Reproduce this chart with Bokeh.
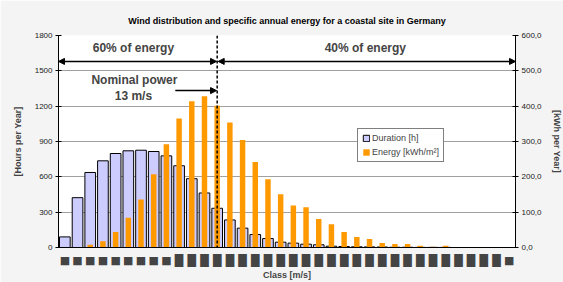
from bokeh.plotting import figure
from bokeh.models import (Range1d, LinearAxis, FixedTicker, CustomJSTickFormatter,
                          Label, Arrow, NormalHead, Span, Legend, LegendItem, ColumnDataSource)
from bokeh.embed import file_html
from bokeh.resources import INLINE

classes = [str(i) for i in range(1, 37)]
duration = [90, 423, 637, 736, 798, 821, 826, 815, 778, 694, 584, 463, 333, 234, 164, 110,
            76, 45, 37, 28, 23, 11, 8, 6, 5, 4, 2, 2, 1, 1, 1, 0, 0, 0, 0, 0]
energy = [0, 0, 7.5, 18, 44, 84, 136, 207, 292, 365, 414, 428, 401, 354, 304, 242, 193, 151,
          119, 114, 81, 66, 44, 30, 24, 13, 10, 10, 5, 2, 5, 0, 0, 0, 0, 0]
# the class labels show in the reference as black boxes (short for one digit, tall for two)
class_marks = ["■" if (len(c) == 1 or c == "36") else "█" for c in classes]
hours_ticks = [0, 300, 600, 900, 1200, 1500, 1800]
energy_ticks = [0, 100, 200, 300, 400, 500, 600]
nominal_class = "13"

FONT = "Liberation Sans"

# slot centre of each class on a numeric axis (class k sits in slot k-1 .. k)
pos = [classes.index(c) + 0.5 for c in classes]
src = ColumnDataSource(dict(x=pos, cls=classes, duration=duration, energy=energy))

p = figure(frame_width=457, frame_height=212, x_range=Range1d(0, len(classes)),
           y_range=Range1d(0, 1800), output_backend="svg", toolbar_location=None,
           title="Wind distribution and specific annual energy for a coastal site in Germany",
           min_border_left=58, min_border_right=40, min_border_top=35, min_border_bottom=20)
p.background_fill_color = "white"
p.border_fill_color = "#f4f4f4"
p.outline_line_color = None

p.title.text_font = FONT
p.title.text_font_size = "9px"
p.title.text_font_style = "bold"
p.title.align = "center"
p.title.text_color = "black"
p.title.standoff = 20

p.extra_y_ranges = {"energy": Range1d(0, 600)}

dur = p.vbar(x="x", top="duration", width=0.84, source=src, fill_color="#ccccff",
             line_color="black", line_width=1)
en = p.vbar(x="x", top="energy", width=0.43, source=src, fill_color="#ff9900",
            line_color=None, y_range_name="energy")

# axes
yax = p.yaxis[0]
yax.ticker = FixedTicker(ticks=hours_ticks)
yax.axis_label = "[Hours per Year]"
yax2 = LinearAxis(y_range_name="energy", ticker=FixedTicker(ticks=energy_ticks),
                  axis_label="[kWh per Year]",
                  formatter=CustomJSTickFormatter(code="return tick.toFixed(1).replace('.', ',');"))
p.add_layout(yax2, "right")
for ax in (yax, yax2):
    ax.axis_label_text_font = FONT
    ax.axis_label_text_font_size = "9px"
    ax.axis_label_text_font_style = "bold"
    ax.major_label_text_font = FONT
    ax.major_label_text_font_size = "8px"
    ax.major_label_text_color = "#222222"
    ax.major_tick_in = 3
    ax.major_tick_out = 3
    ax.minor_tick_line_color = None
    ax.axis_line_color = "black"
    ax.major_label_standoff = 3
yax.axis_label_standoff = 9
yax2.axis_label_standoff = 7

xax = p.xaxis[0]
xax.ticker = FixedTicker(ticks=pos)
xax.major_label_overrides = {x: m for x, m in zip(pos, class_marks)}
xax.axis_label = "Class [m/s]"
xax.axis_label_text_font = FONT
xax.axis_label_text_font_size = "9px"
xax.axis_label_text_font_style = "bold"
xax.axis_label_standoff = 0
xax.major_tick_line_color = None
xax.minor_tick_line_color = None
xax.major_label_text_font = "DejaVu Sans"
xax.major_label_text_font_size = "11px"
xax.major_label_standoff = 0
xax.axis_line_color = "black"

p.xgrid.grid_line_color = None
p.ygrid.ticker = FixedTicker(ticks=hours_ticks)
p.ygrid.grid_line_color = "#a0a0a0"

# nominal power line and annotations
nom = classes.index(nominal_class) + 0.5
p.add_layout(Span(location=nom, dimension="height", line_color="black", line_width=1.5,
                  line_dash="3 2"))
head = dict(size=6, fill_color="black", line_color="black")
p.add_layout(Arrow(x_start=nom - 0.05, y_start=1580, x_end=0, y_end=1580,
                   start=NormalHead(**head), end=NormalHead(**head), line_width=1.5))
p.add_layout(Arrow(x_start=nom + 0.08, y_start=1580, x_end=len(classes), y_end=1580,
                   start=NormalHead(**head), end=NormalHead(**head), line_width=1.5))
p.add_layout(Arrow(x_start=9.2, y_start=1332, x_end=nom - 0.05, y_end=1332,
                   end=NormalHead(**head), line_width=1.5))

def lab(x, y, t):
    p.add_layout(Label(x=x, y=y, text=t, text_font=FONT, text_font_size="12px",
                       text_font_style="bold", text_align="center", text_baseline="middle"))

lab(5.9, 1694, "60% of energy")
lab(24.17, 1694, "40% of energy")
lab(5.98, 1425, "Nominal power")
lab(5.9, 1290, "13 m/s")

legend = Legend(items=[LegendItem(label="Duration [h]", renderers=[dur]),
                       LegendItem(label="Energy [kWh/m²]", renderers=[en])],
                location=(299, 85))
legend.label_text_font = FONT
legend.label_text_font_size = "9px"
legend.glyph_width = 8
legend.glyph_height = 8
legend.label_height = 10
legend.label_standoff = 2
legend.spacing = 4
legend.padding = 4
legend.margin = 0
legend.border_line_color = "black"
legend.border_line_width = 1
legend.background_fill_color = "white"
legend.background_fill_alpha = 1
p.add_layout(legend)

open("out.html", "w").write(file_html(p, INLINE))
